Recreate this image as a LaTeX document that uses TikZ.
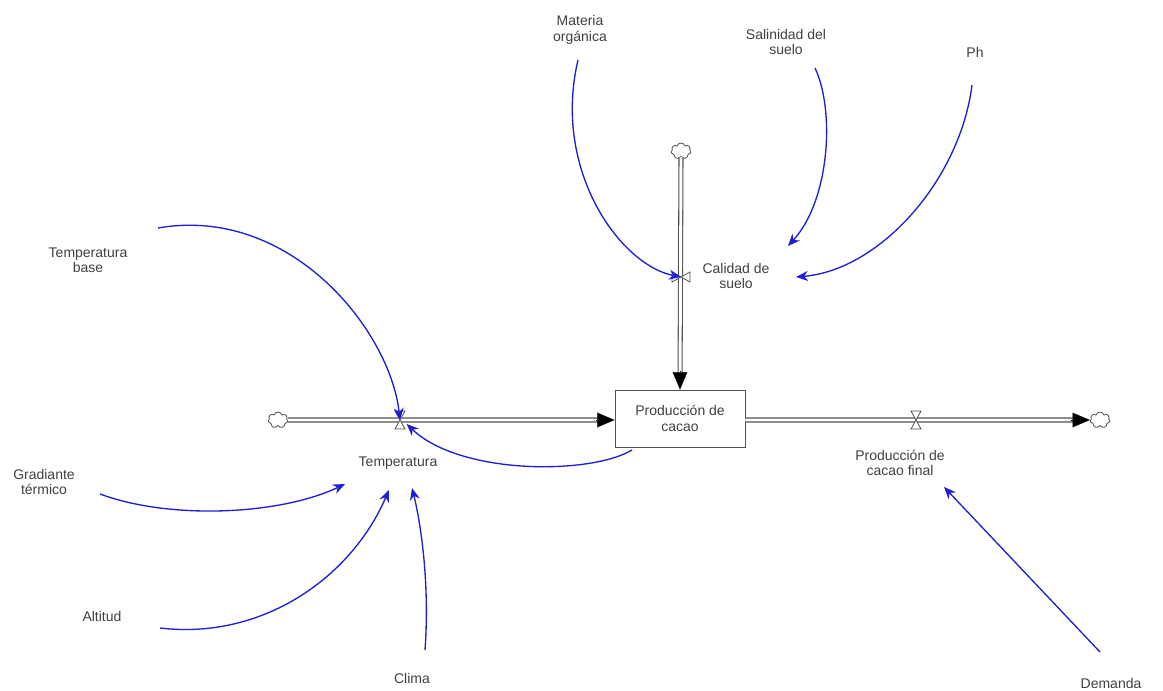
\documentclass[tikz,border=0pt]{standalone}
\usepackage{fontspec}
\setmainfont{Liberation Sans}
\usetikzlibrary{arrows.meta,shapes.symbols}
\definecolor{linkblue}{RGB}{30,30,215}
\definecolor{pipegray}{RGB}{80,80,80}
\begin{document}
\begin{tikzpicture}[x=0.75pt,y=-0.75pt,
  lbl/.style={font=\fontsize{10.5}{11.5}\selectfont, text=black!75, align=center, inner sep=1pt},
  pipe/.style={draw=pipegray, line width=0.8pt, double=white, double distance=2.2pt},
  link/.style={draw=linkblue, line width=1pt, -{Stealth[length=9pt,width=7.5pt]}},
  flowtip/.style={-{Triangle[length=13pt,width=11pt]}, line width=0.1pt, draw=black, fill=black},
  cloudnode/.style={cloud, cloud puffs=7, draw=pipegray, fill=white, line width=0.6pt, minimum width=15pt, minimum height=12pt, inner sep=0pt, aspect=1.3},
  valve/.style={draw=pipegray, fill=white, line width=0.6pt},
  stockbox/.style={draw=pipegray, line width=0.7pt, minimum width=97.5pt, minimum height=42.75pt, align=center, font=\fontsize{10.5}{11.5}\selectfont, text=black!75, fill=white}
]
\useasboundingbox (0,0) rectangle (1163,690);

% clouds and stock
\node[cloudnode] (cl1) at (278,420) {};
\node[cloudnode] (cl2) at (681,151) {};
\node[cloudnode] (cl3) at (1100,420) {};
\node[stockbox] (box) at (680,418.5) {Producción de\\cacao};

% valve coordinates
\coordinate (v1) at (400,420);
\coordinate (v2) at (681,277);
\coordinate (v3) at (916,420);

% pipes
\draw[pipe, shorten >=12pt] (cl1.east) -- (box.west |- v1);
\draw[pipe, shorten >=12pt] (cl2.south) -- (box.north);
\draw[pipe, shorten >=12pt] (box.east |- v3) -- (cl3.west);
\path[flowtip] ([xshift=-14]box.west |- v1) -- (box.west |- v1);
\path[flowtip] ([yshift=14]box.north) -- (box.north);
\path[flowtip] ([xshift=-14]cl3.west) -- (cl3.west);

% valves
\draw[valve] ([shift={(-5,-9)}]v1) -- ++(10,0) -- ++(-10,18) -- ++(10,0) -- cycle;
\draw[valve] ([shift={(-9,-5)}]v2) -- ++(0,10) -- ++(18,-10) -- ++(0,10) -- cycle;
\draw[valve] ([shift={(-5,-9)}]v3) -- ++(10,0) -- ++(-10,18) -- ++(10,0) -- cycle;

% labels
\node[lbl] (temp) at (398,463) {Temperatura};
\node[lbl] (calidad) at (736,276) {Calidad de\\suelo};
\node[lbl] (pfinal) at (900,463) {Producción de\\cacao final};
\node[lbl] (tbase) at (88,260) {Temperatura\\base};
\node[lbl] (grad) at (44,482) {Gradiante\\térmico};
\node[lbl] (alt) at (102,616) {Altitud};
\node[lbl] (clima) at (412,678) {Clima};
\node[lbl] (dem) at (1111,683) {Demanda};
\node[lbl] (mat) at (580,30) {Materia\\orgánica};
\node[lbl] (sal) at (786,42) {Salinidad del\\suelo};
\node[lbl] (ph) at (975,52) {Ph};

% link endpoints
\coordinate (tbaseS) at (158,228);
\coordinate (gradS) at (100,494);
\coordinate (altS) at (160,628);
\coordinate (climaS) at (425,650);
\coordinate (demS) at (1100,652);
\coordinate (matS) at (578,60);
\coordinate (salS) at (815,68);
\coordinate (phS) at (972,85);
\coordinate (boxS) at (632,450);
\coordinate (tempA) at (345,484);
\coordinate (tempB) at (389,490);
\coordinate (tempC) at (412,488);
\coordinate (calA) at (788,246);
\coordinate (calB) at (796,277);
\coordinate (finA) at (944,487);

% links
\draw[link] (tbaseS) .. controls (290,205) and (390,330) .. (v1);
\draw[link] (boxS) .. controls (590,475) and (460,475) .. ([xshift=5,yshift=-3]v1);
\draw[link] (gradS) .. controls (170,520) and (280,515) .. (tempA);
\draw[link] (altS) .. controls (260,640) and (350,580) .. (tempB);
\draw[link] (climaS) .. controls (430,580) and (420,520) .. (tempC);
\draw[link] (demS) -- (finA);
\draw[link] (matS) .. controls (552,170) and (620,265) .. (v2);
\draw[link] (salS) .. controls (835,110) and (830,200) .. (calA);
\draw[link] (phS) .. controls (960,180) and (880,270) .. (calB);
\end{tikzpicture}
\end{document}
